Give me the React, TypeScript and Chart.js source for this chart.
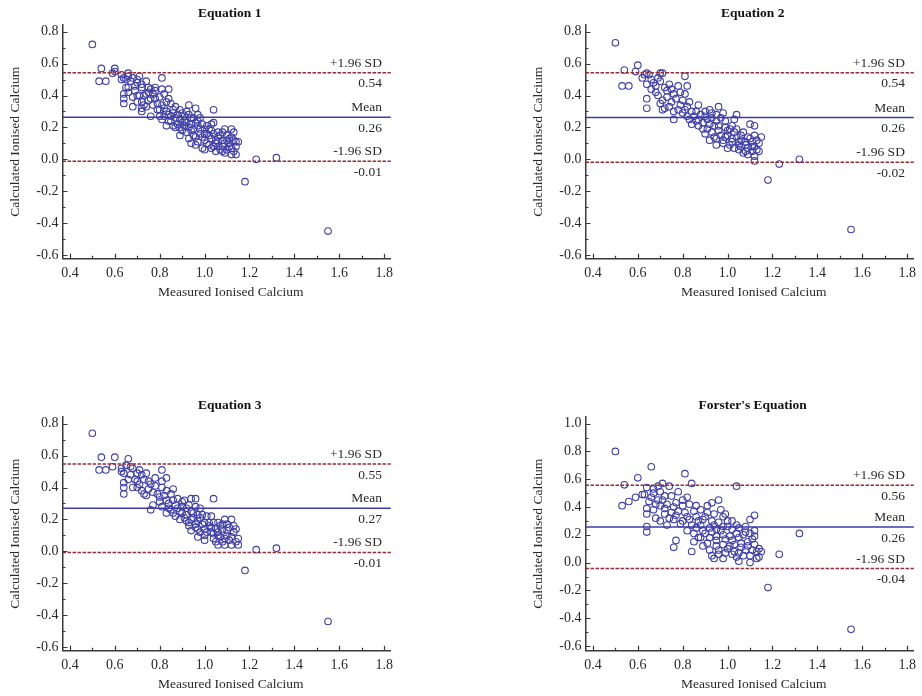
import React, { useEffect, useRef } from 'react';
import { Chart, registerables } from 'chart.js';

Chart.register(...registerables);

// ---------- data ----------
const PANEL_TITLES = ['Equation 1', 'Equation 2', 'Equation 3', "Forster's Equation"];
const X_TITLE = 'Measured Ionised Calcium';
const Y_TITLE = 'Calculated Ionised Calcium';

const X_MIN = 0.367;
const X_MAX = 1.83;
const X_TICKS = [0.4, 0.6, 0.8, 1.0, 1.2, 1.4, 1.6, 1.8];
const X_MINOR = [0.5, 0.7, 0.9, 1.1, 1.3, 1.5, 1.7];

const Y_RANGE_EQ = [-0.623, 0.842];
const Y_TICKS_EQ = [-0.6, -0.4, -0.2, 0.0, 0.2, 0.4, 0.6, 0.8];
const Y_MINOR_EQ = [-0.5, -0.3, -0.1, 0.1, 0.3, 0.5, 0.7];
const Y_RANGE_F = [-0.634, 1.048];
const Y_TICKS_F = [-0.6, -0.4, -0.2, 0.0, 0.2, 0.4, 0.6, 0.8, 1.0];
const Y_MINOR_F = [-0.5, -0.3, -0.1, 0.1, 0.3, 0.5, 0.7, 0.9];

const MEANS = [0.264, 0.262, 0.27, 0.256];
const UPPER = [0.543, 0.542, 0.547, 0.556];
const LOWER = [-0.012, -0.019, -0.007, -0.043];

const eq1Points: number[][] = [
  [0.50,0.72],[0.54,0.57],[0.60,0.57],[0.53,0.49],[0.56,0.49],[0.59,0.54],[0.60,0.55],[0.63,0.53],
  [0.66,0.54],[0.64,0.51],[0.65,0.50],[0.68,0.51],[0.71,0.52],[0.67,0.49],[0.70,0.48],[0.74,0.49],
  [0.81,0.51],[0.65,0.45],[0.66,0.45],[0.69,0.46],[0.72,0.45],[0.75,0.45],[0.78,0.45],[0.64,0.41],
  [0.64,0.35],[0.68,0.39],[0.71,0.40],[0.73,0.40],[0.75,0.42],[0.78,0.43],[0.81,0.44],[0.84,0.44],
  [0.70,0.36],[0.72,0.36],[0.75,0.37],[0.78,0.38],[0.80,0.39],[0.84,0.38],[0.68,0.33],[0.72,0.32],
  [0.74,0.33],[0.76,0.27],[0.79,0.31],[0.81,0.34],[0.83,0.30],[0.85,0.35],[0.87,0.33],[0.80,0.27],
  [0.82,0.27],[0.84,0.28],[0.86,0.29],[0.89,0.31],[0.90,0.29],[0.93,0.34],[0.96,0.32],[1.04,0.31],
  [0.81,0.25],[0.84,0.24],[0.86,0.21],[0.89,0.25],[0.91,0.27],[0.93,0.28],[0.95,0.26],[0.97,0.28],
  [0.83,0.21],[0.87,0.20],[0.89,0.20],[0.92,0.23],[0.94,0.22],[0.97,0.24],[0.89,0.15],[0.92,0.17],
  [0.94,0.18],[0.97,0.21],[1.00,0.19],[1.03,0.22],[1.04,0.23],[0.93,0.13],[0.95,0.15],[0.98,0.16],
  [1.01,0.16],[1.03,0.18],[1.06,0.17],[0.94,0.10],[0.97,0.11],[1.00,0.12],[1.03,0.13],[1.06,0.14],
  [1.09,0.19],[1.12,0.19],[0.96,0.09],[0.99,0.07],[1.02,0.09],[1.05,0.10],[1.08,0.12],[1.10,0.15],
  [1.12,0.14],[1.00,0.06],[1.03,0.07],[1.06,0.08],[1.09,0.10],[1.11,0.10],[1.14,0.11],[1.15,0.11],
  [1.05,0.05],[1.08,0.05],[1.10,0.06],[1.12,0.07],[1.14,0.08],[1.09,0.04],[1.12,0.03],[1.14,0.03],
  [1.08,0.08],[1.06,0.11],[1.18,-0.14],[1.23,0.00],[1.32,0.01],[1.55,-0.45],
  [0.66,0.42],[0.69,0.43],[0.70,0.50],[0.72,0.47],[0.73,0.34],[0.74,0.41],[0.76,0.38],[0.77,0.41],
  [0.79,0.35],[0.80,0.31],[0.82,0.32],[0.83,0.36],[0.85,0.27],[0.85,0.24],[0.87,0.26],[0.88,0.22],
  [0.88,0.28],[0.90,0.23],[0.90,0.18],[0.91,0.21],[0.92,0.30],[0.93,0.20],[0.94,0.26],[0.95,0.19],
  [0.96,0.23],[0.96,0.14],[0.98,0.19],[0.99,0.14],[1.00,0.16],[1.01,0.10],[1.02,0.15],[1.02,0.19],
  [1.04,0.16],[1.05,0.12],[1.07,0.15],[1.07,0.06],[1.08,0.17],[1.10,0.12],[1.11,0.08],[1.13,0.05],
  [1.13,0.17],[1.04,0.08],[0.98,0.26],[0.70,0.40],[0.72,0.30],[0.63,0.50],[0.66,0.52],[0.64,0.38],
  [0.77,0.34],[0.76,0.44],[0.82,0.41],[0.86,0.31],[0.91,0.24],[0.99,0.22],[1.01,0.21],[1.11,0.13],
  [1.13,0.12],
];

const eq2Points: number[][] = [
  [0.50,0.73],[0.54,0.56],[0.60,0.59],[0.59,0.55],[0.53,0.46],[0.56,0.46],[0.62,0.51],[0.64,0.54],
  [0.65,0.53],[0.70,0.54],[0.71,0.54],[0.81,0.52],[0.64,0.47],[0.67,0.48],[0.70,0.49],[0.74,0.47],
  [0.78,0.46],[0.82,0.46],[0.64,0.38],[0.64,0.32],[0.68,0.42],[0.73,0.43],[0.76,0.41],[0.81,0.41],
  [0.70,0.35],[0.75,0.36],[0.79,0.34],[0.83,0.36],[0.76,0.25],[0.72,0.32],[0.81,0.31],[0.82,0.27],
  [0.86,0.30],[0.87,0.34],[0.92,0.31],[0.96,0.33],[1.04,0.28],[1.03,0.25],[0.84,0.22],[0.87,0.25],
  [0.90,0.27],[0.93,0.29],[0.98,0.29],[0.89,0.19],[0.92,0.22],[0.95,0.24],[0.99,0.24],[1.02,0.21],
  [0.90,0.16],[0.93,0.17],[0.96,0.18],[1.00,0.18],[1.03,0.17],[1.10,0.22],[1.12,0.21],[0.92,0.12],
  [0.95,0.13],[0.99,0.14],[1.02,0.13],[1.06,0.15],[1.09,0.14],[1.12,0.15],[1.15,0.14],[0.95,0.09],
  [0.98,0.10],[1.01,0.09],[1.05,0.11],[1.08,0.11],[1.11,0.11],[1.14,0.10],[1.00,0.07],[1.03,0.07],
  [1.06,0.08],[1.09,0.07],[1.12,0.08],[1.05,0.06],[1.08,0.05],[1.11,0.05],[1.14,0.05],[1.09,0.03],
  [1.12,0.02],[1.12,-0.01],[1.18,-0.13],[1.23,-0.03],[1.32,0.00],[1.55,-0.44],
  [0.63,0.53],[0.66,0.50],[0.68,0.46],[0.69,0.51],[0.72,0.45],[0.73,0.39],[0.74,0.33],[0.75,0.44],
  [0.77,0.38],[0.78,0.31],[0.79,0.42],[0.80,0.37],[0.80,0.29],[0.82,0.33],[0.83,0.25],[0.84,0.30],
  [0.85,0.27],[0.86,0.24],[0.87,0.21],[0.88,0.28],[0.89,0.23],[0.90,0.30],[0.91,0.25],[0.91,0.19],
  [0.93,0.26],[0.94,0.21],[0.94,0.14],[0.95,0.28],[0.96,0.21],[0.97,0.15],[0.97,0.26],[0.98,0.12],
  [0.99,0.20],[1.00,0.15],[1.01,0.19],[1.02,0.11],[1.04,0.14],[1.04,0.19],[1.05,0.09],[1.06,0.12],
  [1.07,0.17],[1.08,0.09],[1.10,0.13],[1.11,0.08],[1.13,0.12],[1.13,0.06],[1.07,0.04],[0.71,0.37],
  [0.69,0.40],[0.66,0.44],[0.71,0.31],[0.76,0.30],
];

const eq3Points: number[][] = [
  [0.50,0.74],[0.54,0.59],[0.60,0.59],[0.66,0.58],[0.53,0.51],[0.56,0.51],[0.59,0.53],[0.63,0.52],
  [0.65,0.54],[0.68,0.52],[0.71,0.51],[0.81,0.51],[0.64,0.49],[0.67,0.48],[0.70,0.49],[0.74,0.49],
  [0.64,0.43],[0.64,0.40],[0.64,0.36],[0.68,0.40],[0.70,0.40],[0.73,0.45],[0.75,0.44],[0.78,0.46],
  [0.81,0.44],[0.83,0.46],[0.72,0.38],[0.75,0.39],[0.78,0.41],[0.81,0.40],[0.83,0.38],[0.86,0.39],
  [0.76,0.26],[0.77,0.29],[0.80,0.34],[0.83,0.32],[0.85,0.36],[0.88,0.33],[0.91,0.32],[0.94,0.33],
  [0.96,0.33],[1.04,0.33],[0.81,0.28],[0.84,0.27],[0.87,0.29],[0.90,0.28],[0.93,0.29],[0.96,0.28],
  [0.98,0.27],[0.83,0.24],[0.86,0.24],[0.89,0.25],[0.92,0.23],[0.95,0.24],[0.97,0.23],[0.89,0.20],
  [0.92,0.19],[0.94,0.20],[0.98,0.21],[1.01,0.22],[1.03,0.22],[0.93,0.16],[0.96,0.17],[0.99,0.17],
  [1.02,0.18],[1.06,0.18],[1.09,0.20],[1.12,0.20],[0.94,0.13],[0.97,0.14],[1.00,0.14],[1.03,0.15],
  [1.07,0.16],[1.10,0.17],[0.97,0.09],[1.00,0.10],[1.03,0.12],[1.06,0.12],[1.08,0.14],[1.11,0.15],
  [1.14,0.14],[1.00,0.07],[1.04,0.08],[1.07,0.09],[1.10,0.10],[1.13,0.12],[1.15,0.08],[1.05,0.06],
  [1.08,0.06],[1.11,0.07],[1.14,0.06],[1.09,0.04],[1.12,0.04],[1.15,0.04],[1.06,0.04],
  [1.18,-0.12],[1.23,0.01],[1.32,0.02],[1.55,-0.44],
  [0.66,0.45],[0.69,0.45],[0.71,0.42],[0.72,0.48],[0.74,0.35],[0.76,0.42],[0.77,0.37],[0.79,0.36],
  [0.80,0.31],[0.82,0.35],[0.84,0.30],[0.85,0.26],[0.86,0.32],[0.87,0.22],[0.88,0.27],[0.90,0.24],
  [0.90,0.31],[0.91,0.21],[0.92,0.27],[0.93,0.18],[0.94,0.25],[0.95,0.21],[0.96,0.15],[0.97,0.19],
  [0.98,0.12],[0.99,0.23],[1.00,0.18],[1.01,0.12],[1.02,0.16],[1.04,0.18],[1.04,0.11],[1.05,0.14],
  [1.06,0.10],[1.08,0.17],[1.09,0.08],[1.10,0.13],[1.12,0.09],[1.13,0.16],[0.70,0.44],[0.73,0.36],
  [0.63,0.50],[0.67,0.53],
];

const forsterPoints: number[][] = [
  [0.50,0.80],[0.66,0.69],[0.81,0.64],[0.60,0.61],[0.54,0.56],[0.84,0.57],[1.04,0.55],[0.53,0.41],
  [0.56,0.44],[0.59,0.47],[0.62,0.49],[0.63,0.49],[0.64,0.54],[0.67,0.53],[0.69,0.55],[0.71,0.57],
  [0.67,0.50],[0.70,0.51],[0.74,0.55],[0.65,0.44],[0.69,0.45],[0.72,0.48],[0.75,0.48],[0.78,0.51],
  [0.82,0.47],[0.64,0.39],[0.67,0.38],[0.70,0.41],[0.73,0.42],[0.77,0.43],[0.80,0.41],[0.83,0.42],
  [0.86,0.41],[0.91,0.41],[0.93,0.43],[0.96,0.45],[0.64,0.35],[0.68,0.32],[0.72,0.35],[0.75,0.36],
  [0.78,0.37],[0.81,0.36],[0.85,0.37],[0.88,0.38],[0.91,0.36],[0.94,0.35],[0.98,0.33],[0.64,0.26],
  [0.64,0.22],[0.70,0.30],[0.73,0.27],[0.76,0.31],[0.80,0.30],[0.83,0.31],[0.87,0.30],[0.89,0.31],
  [0.93,0.30],[0.96,0.29],[1.00,0.30],[1.02,0.30],[0.77,0.16],[0.76,0.11],[0.82,0.23],[0.86,0.25],
  [0.89,0.23],[0.92,0.25],[0.95,0.24],[0.98,0.26],[1.02,0.24],[1.05,0.25],[1.08,0.26],[1.10,0.31],
  [1.12,0.34],[0.84,0.08],[0.85,0.15],[0.88,0.18],[0.92,0.18],[0.95,0.19],[0.98,0.20],[1.01,0.19],
  [1.04,0.21],[1.07,0.20],[1.10,0.21],[1.12,0.19],[0.89,0.12],[0.92,0.09],[0.95,0.12],[0.98,0.13],
  [1.01,0.12],[1.03,0.13],[1.06,0.14],[1.09,0.15],[1.12,0.13],[0.93,0.05],[0.96,0.06],[0.99,0.07],
  [1.02,0.06],[1.05,0.07],[1.08,0.09],[1.11,0.09],[1.13,0.08],[1.15,0.08],[0.94,0.03],[0.98,0.03],
  [1.04,0.04],[1.10,0.05],[1.14,0.04],[1.05,0.01],[1.10,0.00],
  [1.18,-0.18],[1.23,0.06],[1.32,0.21],[1.55,-0.48],
  [0.66,0.47],[0.68,0.42],[0.71,0.45],[0.72,0.39],[0.74,0.32],[0.76,0.40],[0.77,0.34],[0.79,0.28],
  [0.80,0.45],[0.82,0.33],[0.84,0.27],[0.85,0.21],[0.86,0.33],[0.87,0.18],[0.88,0.27],[0.90,0.33],
  [0.90,0.21],[0.91,0.14],[0.93,0.22],[0.94,0.27],[0.95,0.16],[0.96,0.09],[0.97,0.23],[0.99,0.17],
  [1.00,0.10],[1.00,0.26],[1.02,0.16],[1.03,0.08],[1.04,0.27],[1.05,0.18],[1.06,0.11],[1.07,0.05],
  [1.08,0.22],[1.09,0.12],[1.11,0.17],[1.12,0.23],[1.13,0.03],[1.14,0.10],[0.97,0.38],[0.99,0.35],
];

const PANEL_POINTS = [eq1Points, eq2Points, eq3Points, forsterPoints];

// ---------- styles ----------
const FONT = "'Liberation Serif', 'Times New Roman', Times, serif";
const AXIS_COLOR = '#3a3a3a';
const TEXT_COLOR = '#2a2a2a';
const POINT_COLOR = '#4040a8';
const MEAN_COLOR = '#3c3caa';
const SD_COLOR = '#9c2a32';
const CANVAS_W = 399;
const CANVAS_H = 304;
const PANEL_POS = [
  [0, 0],
  [523, 0],
  [0, 392],
  [523, 392],
];

function Panel({ idx }: { idx: number }) {
  const ref = useRef<HTMLCanvasElement | null>(null);

  useEffect(() => {
    if (!ref.current) return;
    const isF = idx === 3;
    const yRange = isF ? Y_RANGE_F : Y_RANGE_EQ;
    const yTicks = isF ? Y_TICKS_F : Y_TICKS_EQ;
    const yMinor = isF ? Y_MINOR_F : Y_MINOR_EQ;
    const pts = PANEL_POINTS[idx];
    const mean = MEANS[idx];
    const up = UPPER[idx];
    const lo = LOWER[idx];

    const hline = (v: number) => [
      { x: X_MIN, y: v },
      { x: X_MAX, y: v },
    ];

    const decor = {
      id: 'decor' + idx,
      afterDraw(chart: any) {
        const { ctx, chartArea: a, scales } = chart;
        const xs = scales.x;
        const ys = scales.y;
        ctx.save();
        // inward tick marks
        ctx.strokeStyle = AXIS_COLOR;
        ctx.lineWidth = 1.2;
        ctx.beginPath();
        X_TICKS.forEach((v) => {
          const p = Math.round(xs.getPixelForValue(v)) + 0.5;
          ctx.moveTo(p, a.bottom);
          ctx.lineTo(p, a.bottom - 5);
        });
        X_MINOR.forEach((v) => {
          const p = Math.round(xs.getPixelForValue(v)) + 0.5;
          ctx.moveTo(p, a.bottom);
          ctx.lineTo(p, a.bottom - 3);
        });
        yTicks.forEach((v) => {
          const p = Math.round(ys.getPixelForValue(v)) + 0.5;
          ctx.moveTo(a.left, p);
          ctx.lineTo(a.left + 5, p);
        });
        yMinor.forEach((v) => {
          const p = Math.round(ys.getPixelForValue(v)) + 0.5;
          ctx.moveTo(a.left, p);
          ctx.lineTo(a.left + 3, p);
        });
        ctx.stroke();

        const cx = (a.left + a.right) / 2 + 4;
        // panel title
        ctx.fillStyle = '#111';
        ctx.font = `bold 13.5px ${FONT}`;
        ctx.textAlign = 'center';
        ctx.textBaseline = 'middle';
        ctx.fillText(PANEL_TITLES[idx], cx - 1, 13.5);

        // axis titles
        ctx.fillStyle = TEXT_COLOR;
        ctx.font = `13.5px ${FONT}`;
        ctx.fillText(X_TITLE, cx, 292.5);
        ctx.save();
        ctx.translate(15, (a.top + a.bottom) / 2);
        ctx.rotate(-Math.PI / 2);
        ctx.fillText(Y_TITLE, 0, 0);
        ctx.restore();

        // reference line labels
        ctx.textAlign = 'right';
        const rx = a.right - 9;
        const lab = (v: number, top: string) => {
          const p = ys.getPixelForValue(v);
          ctx.fillText(top, rx, p - 9.5);
          ctx.fillText(v.toFixed(2), rx, p + 11);
        };
        lab(up, '+1.96 SD');
        lab(mean, 'Mean');
        lab(lo, '-1.96 SD');
        ctx.restore();
      },
    };

    const chart = new Chart(ref.current, {
      type: 'scatter',
      data: {
        datasets: [
          {
            label: 'upper',
            data: hline(up),
            showLine: true,
            borderColor: SD_COLOR,
            borderWidth: 1.5,
            borderDash: [3.5, 1.5],
            pointRadius: 0,
            order: 0,
          },
          {
            label: 'mean',
            data: hline(mean),
            showLine: true,
            borderColor: MEAN_COLOR,
            borderWidth: 1.5,
            pointRadius: 0,
            order: 0,
          },
          {
            label: 'lower',
            data: hline(lo),
            showLine: true,
            borderColor: SD_COLOR,
            borderWidth: 1.5,
            borderDash: [3.5, 1.5],
            pointRadius: 0,
            order: 0,
          },
          {
            label: 'points',
            data: pts.map(([x, y]) => ({ x, y })),
            showLine: false,
            pointRadius: 3.3,
            pointBorderWidth: 1.1,
            pointBorderColor: POINT_COLOR,
            pointBackgroundColor: 'rgba(0,0,0,0)',
            borderColor: POINT_COLOR,
            backgroundColor: 'rgba(0,0,0,0)',
            order: 1,
          },
        ],
      },
      options: {
        animation: false,
        responsive: false,
        events: [],
        layout: { padding: { top: 25, right: 5, left: 0, bottom: 0 } },
        plugins: {
          legend: { display: false },
          title: { display: false },
          tooltip: { enabled: false },
        },
        scales: {
          x: {
            type: 'linear',
            min: X_MIN,
            max: X_MAX,
            grid: { display: false, drawTicks: false },
            border: { display: true, color: AXIS_COLOR, width: 1.5 },
            afterBuildTicks: (scale: any) => {
              scale.ticks = X_TICKS.map((v) => ({ value: v }));
            },
            afterFit: (scale: any) => {
              scale.height = 45.3;
            },
            ticks: {
              autoSkip: false,
              maxRotation: 0,
              padding: 6,
              color: TEXT_COLOR,
              font: { family: FONT, size: 14 },
              callback: (v: any) => Number(v).toFixed(1),
            },
          },
          y: {
            type: 'linear',
            min: yRange[0],
            max: yRange[1],
            grid: { display: false, drawTicks: false },
            border: { display: true, color: AXIS_COLOR, width: 1.5 },
            afterBuildTicks: (scale: any) => {
              scale.ticks = yTicks.map((v) => ({ value: v }));
            },
            afterFit: (scale: any) => {
              scale.width = 62.5;
            },
            ticks: {
              autoSkip: false,
              padding: 4,
              color: TEXT_COLOR,
              font: { family: FONT, size: 14 },
              callback: (v: any) => Number(v).toFixed(1),
            },
          },
        },
      } as any,
      plugins: [decor],
    });

    return () => chart.destroy();
  }, [idx]);

  const [left, top] = PANEL_POS[idx];
  return (
    <canvas
      ref={ref}
      width={CANVAS_W}
      height={CANVAS_H}
      style={{ position: 'absolute', left, top, width: CANVAS_W, height: CANVAS_H }}
    />
  );
}

export default function App() {
  return (
    <div
      style={{
        position: 'absolute',
        left: 0,
        top: 0,
        width: 922,
        height: 696,
        background: '#ffffff',
        overflow: 'hidden',
      }}
    >
      {[0, 1, 2, 3].map((i) => (
        <Panel key={i} idx={i} />
      ))}
    </div>
  );
}
